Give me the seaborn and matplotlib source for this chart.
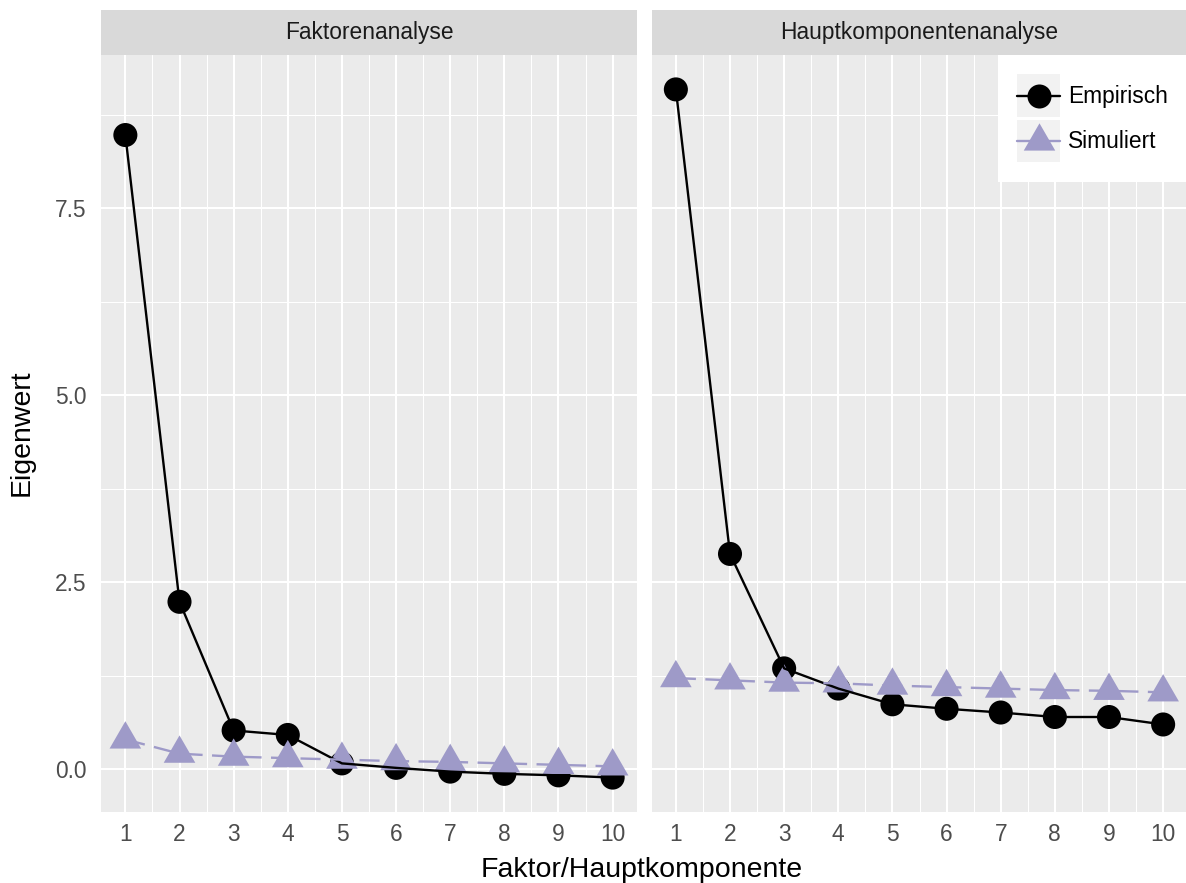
import numpy as np
import pandas as pd
import matplotlib
matplotlib.use("Agg")
import matplotlib.pyplot as plt
import seaborn as sns
from matplotlib.lines import Line2D
from matplotlib.patches import Rectangle
from matplotlib.legend_handler import HandlerLine2D

# values
komponente = list(range(1, 11))
fa_empirisch = [8.48, 2.24, 0.52, 0.46, 0.08, 0.02, -0.03, -0.06, -0.08, -0.11]
fa_simuliert = [0.40, 0.21, 0.17, 0.15, 0.13, 0.11, 0.10, 0.08, 0.06, 0.04]
pca_empirisch = [9.09, 2.88, 1.35, 1.08, 0.87, 0.81, 0.76, 0.70, 0.70, 0.60]
pca_simuliert = [1.22, 1.19, 1.16, 1.15, 1.12, 1.10, 1.08, 1.06, 1.05, 1.03]
methoden = ["Faktorenanalyse", "Hauptkomponentenanalyse"]
typen = ["Empirisch", "Simuliert"]

df = pd.DataFrame({
    "Komponente": komponente * 4,
    "Eigenwert": fa_empirisch + fa_simuliert + pca_empirisch + pca_simuliert,
    "Typ": (["Empirisch"] * 10 + ["Simuliert"] * 10) * 2,
    "Methode": ["Faktorenanalyse"] * 20 + ["Hauptkomponentenanalyse"] * 20,
})

sns.set_theme(style="darkgrid")
plt.rcParams["font.family"] = ["Liberation Sans", "DejaVu Sans"]

PURPLE = "#9E9AC8"
palette = {"Empirisch": "black", "Simuliert": PURPLE}
# equilateral triangle centred on its centroid, like R's pch 17
tri = [(0, 1), (-0.866, -0.5), (0.866, -0.5)]
markers = {"Empirisch": "o", "Simuliert": tri}
sizes = {"Empirisch": 300, "Simuliert": 690}
dashes = {"Empirisch": "", "Simuliert": (8.5, 4)}

W, H = 1186, 883
fig = plt.figure(figsize=(W / 100, H / 100), dpi=100, facecolor="white")
pw, top, bottom = 536, 55, 812
ax1 = fig.add_axes([101 / W, 1 - bottom / H, pw / W, (bottom - top) / H])
ax2 = fig.add_axes([651.5 / W, 1 - bottom / H, pw / W, (bottom - top) / H])
axes = [ax1, ax2]

lo, hi = df["Eigenwert"].min(), df["Eigenwert"].max()
pad = 0.05 * (hi - lo)

for ax, methode in zip(axes, methoden):
    sub = df[df["Methode"] == methode]
    sns.scatterplot(data=sub, x="Komponente", y="Eigenwert", hue="Typ", style="Typ",
                    size="Typ", sizes=sizes, markers=markers, palette=palette,
                    hue_order=typen, style_order=typen, size_order=typen,
                    linewidth=0, legend=False, ax=ax)
    sns.lineplot(data=sub, x="Komponente", y="Eigenwert", hue="Typ", style="Typ",
                 palette=palette, dashes=dashes, hue_order=typen, style_order=typen,
                 lw=1.7, legend=False, ax=ax)

    ax.set_facecolor("#EBEBEB")
    for s in ax.spines.values():
        s.set_visible(False)
    ax.set_xlim(0.55, 10.45)
    ax.set_ylim(lo - pad, hi + pad)
    ax.set_xticks(komponente)
    ax.set_xticks(np.arange(1.5, 10, 1), minor=True)
    ax.set_yticks([0, 2.5, 5, 7.5])
    ax.set_yticklabels(["0.0", "2.5", "5.0", "7.5"])
    ax.set_yticks([1.25, 3.75, 6.25, 8.75], minor=True)
    ax.grid(which="major", color="white", lw=1.5)
    ax.grid(which="minor", color="white", lw=0.75)
    ax.set_axisbelow(True)
    ax.tick_params(which="minor", length=0)
    ax.tick_params(which="major", length=5, width=1.4, color="#333333",
                   labelcolor="#4D4D4D", labelsize=16.4)
    ax.tick_params(axis="x", pad=3)
    ax.tick_params(axis="y", pad=5.5)
    ax.set_xlabel("")
    ax.set_ylabel("")

    # facet strip
    sh = 45 / (bottom - top)
    ax.add_patch(Rectangle((0, 1), 1, sh, transform=ax.transAxes, clip_on=False,
                           facecolor="#D9D9D9", edgecolor="none"))
    ax.text(0.5, 1 + sh / 2, methode, transform=ax.transAxes, ha="center", va="center",
            fontsize=16.4, color="#1A1A1A")

ax2.tick_params(axis="y", left=False, labelleft=False)


class KeyHandler(HandlerLine2D):
    # grey key background as in ggplot legends, marker centred in the key
    def create_artists(self, legend, orig_handle, xdescent, ydescent, width, height,
                       fontsize, trans):
        bg = Rectangle((-xdescent, -ydescent), width, height, facecolor="#F2F2F2",
                       edgecolor="none", transform=trans)
        arts = super().create_artists(legend, orig_handle, xdescent, ydescent, width,
                                      height, fontsize, trans)
        mid = height / 2 - ydescent
        for a in arts:
            a.set_ydata([mid] * len(a.get_xdata()))
        return [bg] + list(arts)


handles = [
    Line2D([], [], color="black", lw=1.7, marker="o", ms=17.3, mew=0),
    Line2D([], [], color=PURPLE, lw=1.7, marker=tri, ms=26.2, mew=0),
]
leg = ax2.legend(handles, typen, loc="upper right", bbox_to_anchor=(1, 1),
                 borderaxespad=0, frameon=True, fancybox=False, facecolor="white",
                 edgecolor="none", framealpha=1, fontsize=16.4, handlelength=1.89,
                 handleheight=2.52, handletextpad=0.35, labelspacing=0.1,
                 borderpad=0.85, handler_map={Line2D: KeyHandler(numpoints=1)})
for t in leg.get_texts():
    t.set_color("black")

fig.text(22 / W, 1 - 433 / H, "Eigenwert", rotation=90, ha="center", va="center",
         fontsize=20.5, color="black")
fig.text(642 / W, 1 - 877 / H, "Faktor/Hauptkomponente", ha="center", va="baseline",
         fontsize=20.5, color="black")

fig.savefig("out.png", dpi=100, facecolor="white")
